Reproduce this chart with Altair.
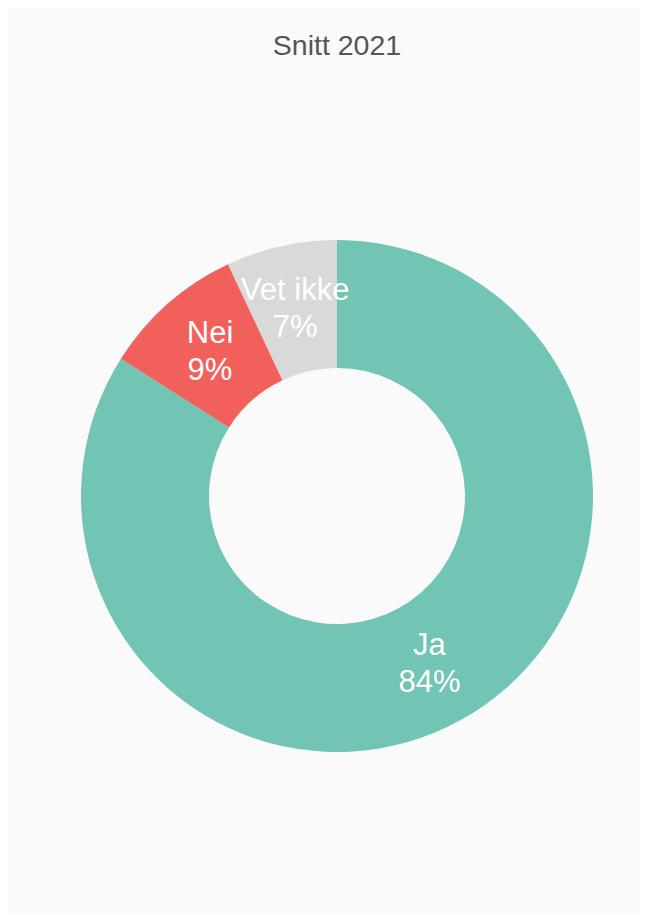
import altair as alt
import pandas as pd

categories = ["Ja", "Nei", "Vet ikke"]
values = [84, 9, 7]
colors = ["#72c4b4", "#f2605c", "#d9d9d9"]
order = [1, 2, 3]

df = pd.DataFrame({"cat": categories, "val": values, "ord": order})

base = alt.Chart(df).encode(
    theta=alt.Theta("val:Q", stack=True),
    order=alt.Order("ord:Q"),
)

arcs = base.mark_arc(outerRadius=256, innerRadius=128, stroke=None).encode(
    color=alt.Color("cat:N", scale=alt.Scale(domain=categories, range=colors), legend=None)
)

labels = base.transform_calculate(
    label="[datum.cat, datum.val + '%']"
).mark_text(
    radius=192, fontSize=31, font="Liberation Sans", color="white",
    align="center", baseline="middle", lineHeight=37, dy=-18
).encode(text="label:N")

chart = alt.layer(arcs, labels).properties(
    width=632, height=905,
    autosize=alt.AutoSizeParams(type="fit", contains="padding"),
    padding={"left": 26, "right": 0, "top": 23, "bottom": 2},
    background="#fafafa",
    title=alt.TitleParams("Snitt 2021", fontSize=28.5, font="Liberation Sans",
                          fontWeight="normal", color="#555555", anchor="middle", offset=21),
).configure_view(stroke=None)

chart.save("out.html", embed_options={"renderer": "svg", "actions": False})
